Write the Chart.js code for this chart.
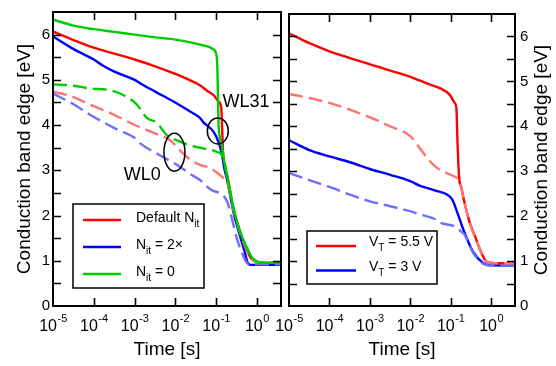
<!DOCTYPE html>
<html>
<head>
<meta charset="utf-8">
<script src="https://cdn.jsdelivr.net/npm/chart.js@4.4.0/dist/chart.umd.min.js"></script>
<style>
  html, body { margin: 0; padding: 0; background: #fff; }
  #wrap { position: relative; width: 556px; height: 366px; overflow: hidden; }
  .panel { position: absolute; top: 0; height: 366px; }
  #left { left: 0; width: 284px; }
  #right { left: 250px; width: 306px; }
</style>
</head>
<body>
<div id="wrap">
  <div class="panel" id="left"><canvas id="leftChart" width="284" height="366"></canvas></div>
  <div class="panel" id="right"><canvas id="rightChart" width="306" height="366"></canvas></div>
</div>
<script>
// axis ticks
const xDecades = [1e-5, 1e-4, 1e-3, 1e-2, 1e-1, 1];
const xExponents = ['-5', '-4', '-3', '-2', '-1', '0'];
const yTicks = [0, 1, 2, 3, 4, 5, 6];

// ---- left panel: Nit variations (solid = WL31, dashed = WL0) ----
const nitDefaultT = [1e-5, 3.2e-5, 1e-4, 3.2e-4, 1e-3, 3.2e-3, 1e-2, 0.023, 0.04, 0.06, 0.087, 0.115, 0.134, 0.141, 0.148, 0.16, 0.186, 0.27, 0.355, 0.48, 0.63, 0.76, 1, 1.26, 3.9];
const nitDefaultE = [6.07, 5.88, 5.71, 5.58, 5.45, 5.30, 5.13, 4.99, 4.88, 4.76, 4.66, 4.52, 4.38, 3.9, 3.4, 3.1, 2.9, 2.12, 1.74, 1.38, 1.14, 1.03, 0.97, 0.95, 0.95];

const nit2xT = [1e-5, 3.2e-5, 1e-4, 1.7e-4, 3.2e-4, 1e-3, 1.4e-3, 3.2e-3, 9e-3, 0.023, 0.04, 0.049, 0.087, 0.115, 0.138, 0.158, 0.186, 0.27, 0.4, 0.5, 0.6, 0.7, 3.9];
const nit2xE = [5.96, 5.68, 5.45, 5.31, 5.18, 5.0, 4.92, 4.74, 4.52, 4.30, 4.16, 4.06, 3.85, 3.62, 3.37, 3.05, 2.79, 2.05, 1.5, 1.2, 0.95, 0.91, 0.91];

const nit0T = [1e-5, 3.2e-5, 1e-4, 3.2e-4, 1e-3, 3.2e-3, 1e-2, 0.04, 0.087, 0.1, 0.107, 0.11, 0.115, 0.126, 0.138, 0.158, 0.186, 0.27, 0.355, 0.48, 0.63, 0.76, 1, 1.26, 3.9];
const nit0E = [6.33, 6.20, 6.12, 6.06, 6.0, 5.94, 5.89, 5.78, 5.67, 5.58, 5.3, 4.8, 4.0, 3.7, 3.55, 3.2, 2.87, 2.14, 1.75, 1.43, 1.2, 1.07, 0.99, 0.96, 0.96];

const nitDefaultWl0T = [1e-5, 3.2e-5, 8.1e-5, 2.5e-4, 1.15e-3, 3.5e-3, 7.6e-3, 0.013, 0.023, 0.04, 0.072, 0.151, 0.186, 0.27, 0.48, 0.76, 1, 3.9];
const nitDefaultWl0E = [4.74, 4.62, 4.45, 4.27, 3.98, 3.80, 3.66, 3.44, 3.24, 3.12, 3.05, 2.83, 2.75, 2.1, 1.38, 1.03, 0.97, 0.95];

const nit2xWl0T = [1e-5, 3.2e-5, 8.1e-5, 3.6e-4, 1e-3, 1.4e-3, 3.5e-3, 0.011, 0.023, 0.041, 0.072, 0.182, 0.24, 0.32, 0.42, 0.54, 0.63, 3.9];
const nit2xWl0E = [4.70, 4.46, 4.23, 3.91, 3.72, 3.59, 3.37, 3.12, 2.92, 2.78, 2.58, 2.33, 1.95, 1.5, 1.2, 0.98, 0.92, 0.92];

const nit0Wl0T = [1e-5, 3.2e-5, 8.1e-5, 2.5e-4, 5.4e-4, 1.15e-3, 2e-3, 3.5e-3, 6.3e-3, 0.011, 0.023, 0.05, 0.105, 0.132, 0.158, 0.186, 0.27, 0.355, 0.48, 0.63, 0.76, 1, 1.26, 3.9];
const nit0Wl0E = [4.90, 4.87, 4.81, 4.77, 4.66, 4.45, 4.16, 4.05, 3.77, 3.66, 3.55, 3.48, 3.41, 3.36, 3.2, 2.87, 2.14, 1.75, 1.43, 1.2, 1.07, 0.99, 0.96, 0.96];

// ---- right panel: program voltage ----
const vt55T = [1e-5, 3.2e-5, 1e-4, 3.2e-4, 1e-3, 3.2e-3, 1e-2, 0.017, 0.035, 0.054, 0.095, 0.126, 0.138, 0.148, 0.162, 0.182, 0.204, 0.295, 0.4, 0.52, 0.76, 1, 1.26, 3.9];
const vt55E = [6.07, 5.85, 5.67, 5.52, 5.38, 5.24, 5.10, 5.02, 4.91, 4.85, 4.70, 4.52, 4.42, 3.6, 2.85, 2.65, 2.43, 1.86, 1.55, 1.28, 0.99, 0.96, 0.95, 0.95];

const vt55Wl0T = [1e-5, 3.2e-5, 1e-4, 3.2e-4, 1e-3, 3.2e-3, 1e-2, 0.016, 0.025, 0.04, 0.063, 0.1, 0.158, 0.182, 0.204, 0.295, 0.52, 0.76, 1, 1.26, 3.9];
const vt55Wl0E = [4.72, 4.63, 4.52, 4.37, 4.20, 4.0, 3.78, 3.55, 3.32, 3.12, 3.0, 2.92, 2.8, 2.65, 2.43, 1.86, 1.28, 0.99, 0.96, 0.95, 0.95];

const vt3T = [1e-5, 3.2e-5, 1e-4, 3.2e-4, 1e-3, 3.2e-3, 1e-2, 0.017, 0.042, 0.091, 0.112, 0.138, 0.204, 0.355, 0.63, 0.91, 3.9];
const vt3E = [3.69, 3.47, 3.33, 3.2, 3.05, 2.92, 2.78, 2.68, 2.57, 2.45, 2.35, 2.14, 1.71, 1.21, 0.96, 0.91, 0.9];

const vt3Wl0T = [1e-5, 3.2e-5, 1e-4, 3.2e-4, 1e-3, 3.2e-3, 1e-2, 0.017, 0.042, 0.054, 0.132, 0.178, 0.215, 0.355, 0.63, 0.91, 3.9];
const vt3Wl0E = [2.96, 2.8, 2.65, 2.48, 2.33, 2.22, 2.11, 2.04, 1.93, 1.86, 1.76, 1.66, 1.6, 1.19, 0.94, 0.9, 0.9];

const FONT = '"Liberation Sans", Arial, Helvetica, sans-serif';
const RED = '#ff0000', BLUE = '#0000ff', GREEN = '#00cc00';
const LRED = '#ff7373', LBLUE = '#6f6fff';

function series(t, e, color, dashed, legend) {
  return {
    data: t.map((v, i) => ({x: v, y: e[i]})),
    borderColor: color,
    borderWidth: 2.4,
    borderDash: dashed ? [14, 6] : [],
    pointRadius: 0,
    cubicInterpolationMode: 'monotone',
    fill: false,
    legendText: legend
  };
}

// text with _{sub} parts
function drawRich(ctx, text, x, y, size) {
  const re = /_\{([^}]*)\}/g;
  const parts = [];
  let last = 0, m;
  while ((m = re.exec(text))) {
    if (m.index > last) parts.push({t: text.slice(last, m.index), sub: false});
    parts.push({t: m[1], sub: true});
    last = re.lastIndex;
  }
  if (last < text.length) parts.push({t: text.slice(last), sub: false});
  ctx.textAlign = 'left';
  ctx.textBaseline = 'alphabetic';
  let cx = x;
  parts.forEach(p => {
    ctx.font = (p.sub ? Math.round(size * 0.68) : size) + 'px ' + FONT;
    ctx.fillText(p.t, cx, p.sub ? y + 5 : y);
    cx += ctx.measureText(p.t).width;
  });
}

// frame box with inward ticks + x tick labels with exponent
const framePlugin = {
  id: 'frame',
  afterDatasetsDraw(chart) {
    const {ctx, chartArea: a, scales: {x, y}} = chart;
    const len = 8;
    ctx.save();
    ctx.strokeStyle = '#000';
    ctx.lineWidth = 1.6;
    ctx.beginPath();
    for (let v = 0.5; v < 6.4; v += 0.5) {
      const py = Math.round(y.getPixelForValue(v)) + 0.5;
      ctx.moveTo(a.left, py); ctx.lineTo(a.left + len, py);
      ctx.moveTo(a.right, py); ctx.lineTo(a.right - len, py);
    }
    xDecades.slice(1).forEach(v => {
      const px = Math.round(x.getPixelForValue(v)) + 0.5;
      ctx.moveTo(px, a.bottom); ctx.lineTo(px, a.bottom - len);
      ctx.moveTo(px, a.top); ctx.lineTo(px, a.top + len);
    });
    ctx.stroke();
    ctx.lineWidth = 2;
    ctx.strokeRect(a.left, a.top, a.right - a.left, a.bottom - a.top);

    ctx.fillStyle = '#000';
    ctx.textBaseline = 'alphabetic';
    ctx.textAlign = 'left';
    xDecades.forEach((v, i) => {
      const px = x.getPixelForValue(v);
      ctx.font = '16px ' + FONT;
      const w1 = ctx.measureText('10').width;
      ctx.font = '11px ' + FONT;
      const w2 = ctx.measureText(xExponents[i]).width;
      const sx = px - (w1 + w2) / 2;
      ctx.font = '16px ' + FONT;
      ctx.fillText('10', sx, a.bottom + 25);
      ctx.font = '11px ' + FONT;
      ctx.fillText(xExponents[i], sx + w1 + 0.5, a.bottom + 16);
    });
    ctx.restore();
  }
};

const legendPlugin = {
  id: 'richLegend',
  afterDraw(chart, args, o) {
    const {ctx, chartArea: a} = chart;
    const bx = a.left + o.dx, by = a.bottom - o.dy - o.h;
    ctx.save();
    ctx.fillStyle = '#fff';
    ctx.fillRect(bx, by, o.w, o.h);
    ctx.strokeStyle = '#000';
    ctx.lineWidth = 1.5;
    ctx.strokeRect(bx, by, o.w, o.h);
    chart.data.datasets.forEach(ds => {
      if (!ds.legendText) return;
      const row = o.order.indexOf(ds.legendText);
      const ly = by + o.first + row * o.gap;
      ctx.strokeStyle = ds.borderColor;
      ctx.lineWidth = 2.6;
      ctx.beginPath();
      ctx.moveTo(bx + o.lineX0, ly);
      ctx.lineTo(bx + o.lineX1, ly);
      ctx.stroke();
      ctx.fillStyle = '#000';
      drawRich(ctx, ds.legendText, bx + o.textX, ly + o.textDy, 14);
    });
    ctx.restore();
  }
};

const notesPlugin = {
  id: 'notes',
  afterDatasetsDraw(chart, args, o) {
    const {ctx, scales: {x, y}} = chart;
    ctx.save();
    ctx.strokeStyle = '#000';
    ctx.lineWidth = 1.5;
    (o.ellipses || []).forEach(e => {
      ctx.beginPath();
      ctx.ellipse(x.getPixelForValue(e.x), y.getPixelForValue(e.y), e.rx, e.ry, 0, 0, Math.PI * 2);
      ctx.stroke();
    });
    ctx.fillStyle = '#000';
    ctx.font = '18px ' + FONT;
    ctx.textAlign = 'center';
    ctx.textBaseline = 'middle';
    (o.labels || []).forEach(l => {
      ctx.fillText(l.text, x.getPixelForValue(l.x), y.getPixelForValue(l.y));
    });
    if (o.sideTitle) {
      const a = chart.chartArea;
      ctx.font = '19px ' + FONT;
      ctx.translate(o.sideTitle.x, (a.top + a.bottom) / 2);
      ctx.rotate(-Math.PI / 2);
      ctx.fillText(o.sideTitle.text, 0, 0);
    }
    ctx.restore();
  }
};

function options(side, plugins) {
  const left = side === 'left';
  return {
    responsive: false,
    animation: false,
    events: [],
    layout: {padding: left ? {top: 6, right: 3, left: 0, bottom: 0} : {top: 6, right: 0, left: 39, bottom: 0}},
    plugins: Object.assign({legend: {display: false}, tooltip: {enabled: false}}, plugins),
    scales: {
      x: {
        type: 'logarithmic',
        min: 1e-5,
        max: 3.9,
        grid: {display: false, drawTicks: false},
        border: {display: false},
        ticks: {display: false},
        afterBuildTicks: s => { s.ticks = xDecades.map(v => ({value: v})); },
        afterFit: s => { s.height = 60; },
        title: {display: true, text: 'Time [s]', color: '#000', font: {family: FONT, size: 19}, padding: {top: 0, bottom: 5}}
      },
      y: {
        position: side,
        min: 0,
        max: 6.5,
        grid: {display: false, drawTicks: false},
        border: {display: false},
        afterBuildTicks: s => { s.ticks = yTicks.map(v => ({value: v})); },
        afterFit: s => { s.width = left ? 53 : 41; },
        ticks: {color: '#000', font: {family: FONT, size: 15}, padding: left ? 3 : 5},
        title: {display: left, text: 'Conduction band edge [eV]', color: '#000', font: {family: FONT, size: 19}, padding: {top: 13, bottom: 0}}
      }
    }
  };
}

new Chart(document.getElementById('leftChart'), {
  type: 'line',
  data: {
    datasets: [
      series(nit0T, nit0E, GREEN, false, 'N_{it} = 0'),
      series(nit0Wl0T, nit0Wl0E, GREEN, true),
      series(nit2xWl0T, nit2xWl0E, LBLUE, true),
      series(nitDefaultWl0T, nitDefaultWl0E, LRED, true),
      series(nit2xT, nit2xE, BLUE, false, 'N_{it} = 2\u00d7'),
      series(nitDefaultT, nitDefaultE, RED, false, 'Default N_{it}')
    ]
  },
  options: options('left', {
    richLegend: {dx: 20, dy: 18, w: 131, h: 84, first: 16, gap: 27, lineX0: 10, lineX1: 48, textX: 63, textDy: 2,
      order: ['Default N_{it}', 'N_{it} = 2\u00d7', 'N_{it} = 0']},
    notes: {
      ellipses: [{x: 0.0095, y: 3.40, rx: 10.5, ry: 19}, {x: 0.11, y: 3.87, rx: 10.5, ry: 13}],
      labels: [{text: 'WL31', x: 0.54, y: 4.51}, {text: 'WL0', x: 0.00155, y: 2.90}]
    }
  }),
  plugins: [framePlugin, notesPlugin, legendPlugin]
});

new Chart(document.getElementById('rightChart'), {
  type: 'line',
  data: {
    datasets: [
      series(vt55Wl0T, vt55Wl0E, LRED, true),
      series(vt3Wl0T, vt3Wl0E, LBLUE, true),
      series(vt55T, vt55E, RED, false, 'V_{T} = 5.5 V'),
      series(vt3T, vt3E, BLUE, false, 'V_{T} = 3 V')
    ]
  },
  options: options('right', {
    richLegend: {dx: 18, dy: 22, w: 130, h: 53, first: 15, gap: 24.5, lineX0: 9, lineX1: 49, textX: 62, textDy: 0,
      order: ['V_{T} = 5.5 V', 'V_{T} = 3 V']},
    notes: {sideTitle: {text: 'Conduction band edge [eV]', x: 292}}
  }),
  plugins: [framePlugin, notesPlugin, legendPlugin]
});
</script>
</body>
</html>
